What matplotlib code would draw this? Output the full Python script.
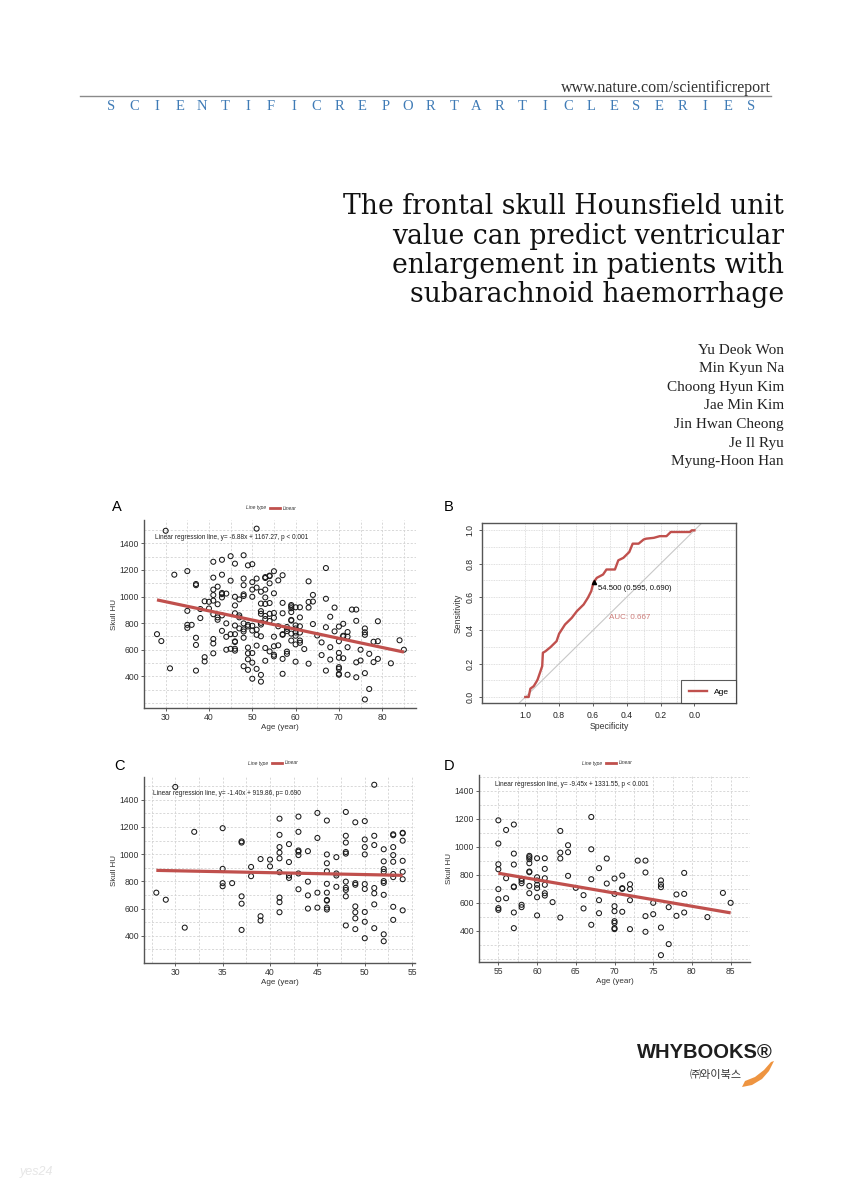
import numpy as np
import matplotlib.pyplot as plt
from matplotlib.lines import Line2D
from matplotlib.patches import Polygon

plt.rcParams['font.family'] = ['Liberation Sans', 'DejaVu Sans']

# Panel C: patients aged <= 54
c_age = [28, 29, 30, 31, 32,
         35, 35, 35, 35, 36,
         37, 37, 37, 37, 37, 38, 38, 39, 39, 39, 40, 40,
         41, 41, 41, 41, 41, 41, 41, 41, 41,
         42, 42, 42, 42,
         43, 43, 43, 43, 43, 43, 43,
         44, 44, 44, 44,
         45, 45, 45, 45,
         46, 46, 46, 46, 46, 46, 46, 46, 46, 46,
         47, 47, 47, 47,
         48, 48, 48, 48, 48, 48, 48, 48, 48, 48,
         49, 49, 49, 49, 49, 49, 49,
         50, 50, 50, 50, 50, 50, 50, 50, 50,
         51, 51, 51, 51, 51, 51, 51,
         52, 52, 52, 52, 52, 52, 52, 52, 52,
         53, 53, 53, 53, 53, 53, 53, 53, 53,
         54, 54, 54, 54, 54, 54, 54]
c_hu = [717, 665, 1494, 460, 1164,
        1191, 892, 787, 764, 787,
        1094, 1085, 690, 636, 443, 906, 838, 964, 544, 512, 960, 910,
        1261, 1142, 1052, 1011, 969, 867, 681, 647, 573,
        1074, 942, 843, 825,
        1276, 1164, 1027, 1018, 993, 858, 742,
        1022, 798, 697, 600,
        1303, 1119, 717, 607,
        1247, 998, 933, 874, 782, 717, 663, 658, 607, 593,
        978, 858, 843, 760,
        1310, 1135, 1085, 1016, 1004, 798, 753, 737, 690, 476,
        1234, 787, 775, 616, 573, 528, 449,
        1243, 1108, 1052, 998, 780, 744, 575, 503, 382,
        1510, 1135, 1067, 751, 712, 631, 456,
        1036, 947, 890, 870, 802, 789, 701, 411, 360,
        1146, 1139, 1052, 993, 944, 854, 831, 613, 517,
        1157, 1153, 1099, 951, 870, 816, 587]

# Panel D: patients aged >= 55
d_age = [55, 55, 55, 55, 55, 55, 55, 55,
         56, 56, 56,
         57, 57, 57, 57, 57, 57, 57,
         58, 58, 58, 58, 58,
         59, 59, 59, 59, 59, 59, 59, 59,
         60, 60, 60, 60, 60, 60, 60,
         61, 61, 61, 61, 61, 61,
         62, 63, 63, 63, 63, 64, 64, 64, 65, 66, 66,
         67, 67, 67, 67, 68, 68, 68, 69, 69,
         70, 70, 70, 70, 70, 70, 70, 70,
         71, 71, 71, 71, 72, 72, 72, 72, 73,
         74, 74, 74, 74, 75, 75,
         76, 76, 76, 76, 76, 77, 77, 78, 78,
         79, 79, 79, 82, 84, 85]
d_hu = [1190, 1024, 876, 840, 698, 626, 562, 550,
        1121, 776, 633,
        1160, 952, 874, 717, 712, 531, 419,
        771, 757, 740, 586, 569,
        936, 926, 912, 883, 824, 819, 721, 669,
        919, 783, 760, 729, 705, 640, 510,
        919, 843, 776, 729, 669, 652,
        605, 1114, 959, 917, 495, 1012, 962, 793, 707, 655, 560,
        1214, 983, 769, 443, 848, 619, 526, 917, 738,
        774, 664, 576, 540, 469, 457, 419, 412,
        795, 705, 700, 536, 733, 698, 619, 412, 902,
        902, 817, 505, 393, 600, 519,
        760, 731, 712, 424, 226, 569, 305, 660, 507,
        814, 664, 531, 498, 671, 600]

# Panel A: everyone
a_age = c_age + d_age
a_hu = c_hu + d_hu

# regression lines as printed on the panels
a_fit = (-6.88, 1167.27, 'p < 0.001')
c_fit = (-1.40, 919.86, 'p= 0.690')
d_fit = (-9.45, 1331.55, 'p < 0.001')

# Panel B: ROC curve for age
roc_spec = [1.0, 0.98, 0.97, 0.95, 0.935, 0.927, 0.91, 0.90, 0.896, 0.88, 0.85,
            0.815, 0.80, 0.765, 0.725, 0.695, 0.655, 0.63, 0.61, 0.60, 0.595,
            0.577, 0.54, 0.52, 0.47, 0.45, 0.42, 0.385, 0.365, 0.33, 0.30,
            0.285, 0.24, 0.205, 0.165, 0.14, 0.026, 0.016, 0.0]
roc_sens = [0.0, 0.0, 0.05, 0.065, 0.09, 0.105, 0.155, 0.185, 0.265, 0.275, 0.30,
            0.335, 0.38, 0.435, 0.475, 0.515, 0.555, 0.595, 0.635, 0.675, 0.69,
            0.715, 0.735, 0.765, 0.765, 0.82, 0.835, 0.87, 0.92, 0.92, 0.945,
            0.95, 0.955, 0.965, 0.965, 0.99, 0.99, 1.0, 1.0]
best_thr, best_spec, best_sens = 54.5, 0.595, 0.690
auc = 0.667

RED = '#c0504d'
W, H = 849, 1200


def fx(px):
    return px / W


def fy(py):
    return 1 - py / H


fig = plt.figure(figsize=(8.49, 12), dpi=100)

# header
fig.text(fx(771), fy(88), 'www.nature.com/scientificreport', ha='right', va='center',
         family='Liberation Serif', fontsize=11.5, color='#333333')
fig.add_artist(Line2D([fx(80), fx(771)], [fy(96), fy(96)], color='#8a8a8a', lw=1.0))
letters = 'SCIENTIFICREPORTARTICLESERIES'
for i, ch in enumerate(letters):
    fig.text(fx(111 + i * 22.85), fy(106), ch, ha='center', va='center',
             family='Liberation Serif', fontsize=10.5, color='#3f7bb6')

# title
title_lines = ['The frontal skull Hounsfield unit',
               'value can predict ventricular',
               'enlargement in patients with',
               'subarachnoid haemorrhage']
for i, t in enumerate(title_lines):
    fig.text(fx(784), fy(207 + i * 29.3), t, ha='right', va='center',
             family='DejaVu Serif', fontsize=19.2, color='#111111')

authors = ['Yu Deok Won', 'Min Kyun Na', 'Choong Hyun Kim', 'Jae Min Kim',
           'Jin Hwan Cheong', 'Je Il Ryu', 'Myung-Hoon Han']
for i, a in enumerate(authors):
    fig.text(fx(784), fy(350 + i * 18.6), a, ha='right', va='center',
             family='Liberation Serif', fontsize=11, color='#222222')


def gg_panel(rect, ages, hu, fit, xlim, ylim, xmaj, xmin, note_x):
    ax = fig.add_axes(rect)
    ax.scatter(ages, hu, s=13, facecolors='none', edgecolors='#1a1a1a',
               linewidths=0.75, zorder=3)
    xs = np.array([min(ages), max(ages)])
    ax.plot(xs, fit[0] * xs + fit[1], color=RED, lw=2.3, zorder=4,
            solid_capstyle='butt')
    ax.set_xlim(xlim)
    ax.set_ylim(ylim)
    ax.set_xticks(xmaj)
    ax.set_xticks(xmin, minor=True)
    ax.set_yticks([400, 600, 800, 1000, 1200, 1400])
    ax.set_yticks(np.arange(200, 1600, 100), minor=True)
    ax.grid(which='both', ls=(0, (2.5, 2)), color='#d2d2d2', lw=0.6)
    ax.set_axisbelow(True)
    for s in ['top', 'right']:
        ax.spines[s].set_visible(False)
    for s in ['left', 'bottom']:
        ax.spines[s].set_color('#555555')
        ax.spines[s].set_linewidth(1.0)
    ax.tick_params(which='minor', length=0)
    ax.tick_params(which='major', labelsize=6.2, length=2, width=0.6,
                   color='#444444', pad=1.5, labelcolor='#333333')
    ax.set_xlabel('Age (year)', fontsize=5.8, labelpad=1.5, color='#333333')
    ax.set_ylabel('Skull HU', fontsize=5.8, labelpad=1.5, color='#333333')
    note = 'Linear regression line, y= %.2fx + %.2f, %s' % (fit[0], fit[1], fit[2])
    ax.text(note_x, 1445, note, fontsize=4.7, color='#222222', va='center')
    return ax


def gg_legend(cx, cy):
    fig.text(fx(cx - 4), fy(cy), 'Line type', ha='right', va='center',
             fontsize=3.6, style='italic', color='#333333')
    fig.add_artist(Line2D([fx(cx), fx(cx + 10)], [fy(cy), fy(cy)], color=RED, lw=2))
    fig.text(fx(cx + 13), fy(cy), 'Linear', ha='left', va='center',
             fontsize=3.6, style='italic', color='#333333')


# Panel A
gg_panel([fx(144), fy(708), fx(416) - fx(144), fy(520) - fy(708)],
         a_age, a_hu, a_fit, (25.2, 87.8), (162, 1575),
         [30, 40, 50, 60, 70, 80], np.arange(25, 90, 5), 27.5)
gg_legend(270, 508)
fig.text(fx(112), fy(507), 'A', fontsize=10.5, va='center', ha='left')

# Panel C
gg_panel([fx(144), fy(963), fx(415) - fx(144), fy(777) - fy(963)],
         c_age, c_hu, c_fit, (26.7, 55.3), (302, 1567),
         [30, 35, 40, 45, 50, 55], np.arange(27.5, 56, 2.5), 27.6)
gg_legend(272, 763)
fig.text(fx(114), fy(766), 'C', fontsize=10.5, va='center', ha='left')

# Panel D
gg_panel([fx(479), fy(962), fx(750) - fx(479), fy(775) - fy(962)],
         d_age, d_hu, d_fit, (53.5, 86.5), (177, 1514),
         [55, 60, 65, 70, 75, 80, 85], np.arange(52.5, 88, 2.5), 54.6)
gg_legend(606, 763)
fig.text(fx(444), fy(766), 'D', fontsize=10.5, va='center', ha='left')

# Panel B: ROC
axb = fig.add_axes([fx(482), fy(703), fx(736) - fx(482), fy(523) - fy(703)])
axb.plot([1.3, -0.3], [-0.3, 1.3], color='#c8c8c8', lw=0.8, zorder=2)
axb.plot(roc_spec, roc_sens, color=RED, lw=1.7, zorder=4, label='Age')
axb.plot([best_spec], [best_sens], marker='^', ms=3, color='black', zorder=5)
axb.text(best_spec - 0.025, best_sens - 0.04,
         '%.3f (%.3f, %.3f)' % (best_thr, best_spec, best_sens),
         fontsize=5.6, va='center', ha='left', color='#111111')
axb.text(0.38, 0.478, 'AUC: %.3f' % auc, fontsize=5.8, color='#cc7b78',
         ha='center', va='center')
axb.set_xlim(1.256, -0.246)
axb.set_ylim(-0.036, 1.044)
ticks = [1.0, 0.8, 0.6, 0.4, 0.2, 0.0]
axb.set_xticks(ticks)
axb.set_yticks(ticks)
axb.set_xticks(np.arange(0, 1.01, 0.1), minor=True)
axb.set_yticks(np.arange(0, 1.01, 0.1), minor=True)
axb.grid(which='both', ls=(0, (1, 1)), color='#d5d5d5', lw=0.6)
axb.set_axisbelow(True)
axb.tick_params(which='minor', length=0)
axb.tick_params(which='major', labelsize=6.2, length=2.5, width=0.6, pad=3,
                color='#444444', labelcolor='#222222')
axb.set_yticklabels(['%.1f' % t for t in ticks], rotation=90, va='center')
for s in axb.spines.values():
    s.set_color('#555555')
    s.set_linewidth(1.0)
axb.set_xlabel('Specificity', fontsize=6.2, labelpad=2, color='#333333')
axb.set_ylabel('Sensitivity', fontsize=6.2, labelpad=2, color='#333333')
leg = axb.legend(loc='lower right', fontsize=6, frameon=True, fancybox=False,
                 borderaxespad=0, handlelength=2.2, borderpad=0.9,
                 edgecolor='#333333')
leg.get_frame().set_linewidth(0.8)
fig.text(fx(444), fy(507), 'B', fontsize=10.5, va='center', ha='left')

# publisher logo
fig.text(fx(773), fy(1053), 'WHYBOOKS®', ha='right', va='center',
         fontsize=14.5, fontweight='bold', color='#1e1e1e')
fig.text(fx(742), fy(1075), '㈜와이북스', ha='right', va='center', fontsize=8,
         family=['Noto Sans CJK KR', 'DejaVu Sans'], color='#333333')
swoosh = [(742, 1087), (752, 1085), (762, 1079), (769, 1071), (774, 1061),
          (771, 1062), (764, 1070), (755, 1077), (745, 1081)]
fig.add_artist(Polygon([(fx(x), fy(y)) for x, y in swoosh], closed=True,
                       transform=fig.transFigure, facecolor='#ee9440',
                       edgecolor='none'))

fig.text(fx(20), fy(1175), 'yes24', fontsize=9, style='italic', color='#e6e6e6')

fig.savefig('out.png', dpi=100, facecolor='white')
